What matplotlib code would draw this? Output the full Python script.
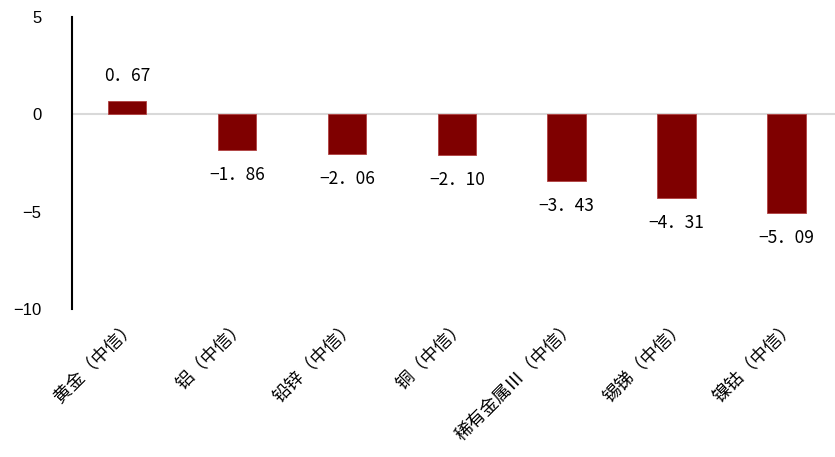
import numpy as np
import matplotlib.pyplot as plt

plt.rcParams['font.family'] = ['Noto Sans CJK SC', 'DejaVu Sans']

categories = ['黄金（中信）', '铝（中信）', '铅锌（中信）', '铜（中信）', '稀有金属Ⅲ（中信）', '锡锑（中信）', '镍钴（中信）']
values = [0.67, -1.86, -2.06, -2.10, -3.43, -4.31, -5.09]
value_labels = ['0．67', '−1．86', '−2．06', '−2．10', '−3．43', '−4．31', '−5．09']

fig = plt.figure(figsize=(8.35, 4.57), dpi=100)
ax = fig.add_axes([0.0862, 0.324, 0.9138, 0.639])

x = np.arange(len(categories))
ax.bar(x, values, width=0.35, color='#7F0000', edgecolor='#B04040', linewidth=0.6, zorder=3)
ax.axhline(0, color='#D9D9D9', linewidth=1.5, zorder=2)

for xi, v, lab in zip(x, values, value_labels):
    off = 18 if v >= 0 else -18
    ax.annotate(lab, (xi, v), xytext=(0, off), textcoords='offset points',
                ha='center', va='center', fontsize=12.5)

ax.set_xlim(-0.5, 6.44)
ax.set_ylim(-10, 5)
ax.set_yticks([-10, -5, 0, 5])
ax.set_yticklabels(['−10', '−5', '0', '5'], family='Liberation Sans', fontsize=12)
ax.set_xticks(x)
ax.set_xticklabels(categories, rotation=45, ha='right', rotation_mode='anchor', fontsize=13)
ax.tick_params(axis='both', length=0)
ax.tick_params(axis='y', pad=22)
ax.tick_params(axis='x', pad=6)

for s in ['top', 'right', 'bottom']:
    ax.spines[s].set_visible(False)
ax.spines['left'].set_linewidth(1.5)
ax.spines['left'].set_color('black')

fig.savefig('out.png', dpi=100)
